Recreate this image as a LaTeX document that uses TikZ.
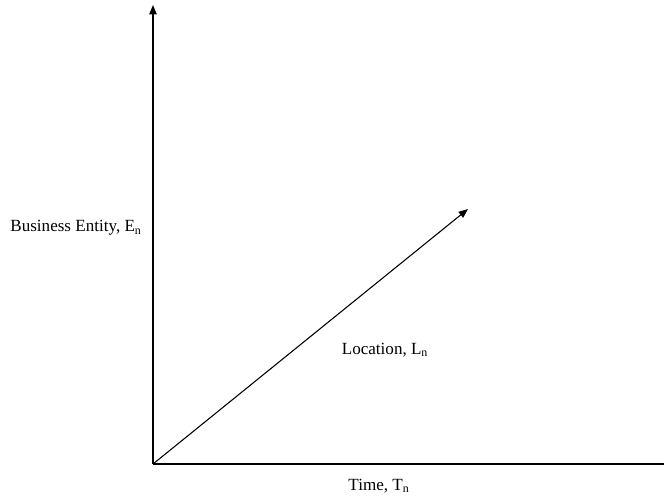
\documentclass[tikz,border=0pt]{standalone}
\usepackage{fontspec}
\setmainfont{Liberation Serif}
\usetikzlibrary{arrows.meta}

\begin{document}
\begin{tikzpicture}[x=.75pt,y=-.75pt,font=\fontsize{12.8}{15}\selectfont,
  axis/.style={line width=1pt},
  tip/.style={-{Triangle[length=7pt,width=5.5pt]}}]
\useasboundingbox (0,0) rectangle (664,496);
\coordinate (origin) at (153,464);
\coordinate (etop) at (153,5);
\coordinate (tend) at (664,464);
\coordinate (ltip) at (468,209);
\draw[axis,tip] (origin) -- (etop);
\draw[axis] (origin) -- (tend);
\draw[line width=.8pt,tip] (origin) -- (ltip);
\node (elabel) at (76,228) {Business Entity, E\textsubscript{n}};
\node (llabel) at (385,350) {Location, L\textsubscript{n}};
\node (tlabel) at (379,486) {Time, T\textsubscript{n}};
\end{tikzpicture}
\end{document}
